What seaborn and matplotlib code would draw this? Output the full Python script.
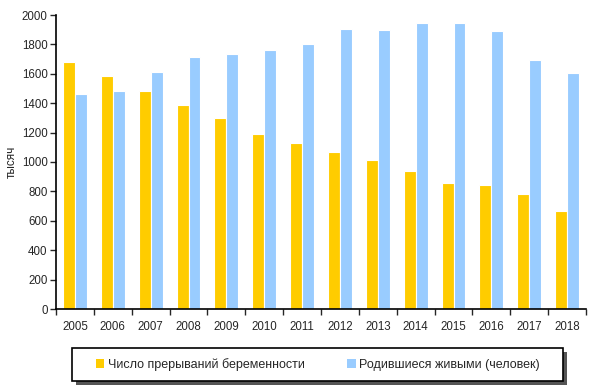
import pandas as pd
import numpy as np
import matplotlib.pyplot as plt
import matplotlib.patches as mpatches
import seaborn as sns

# данные (тысяч)
years = ['2005', '2006', '2007', '2008', '2009', '2010', '2011',
         '2012', '2013', '2014', '2015', '2016', '2017', '2018']
abortions = [1680, 1587, 1485, 1390, 1297, 1190, 1127,
             1068, 1016, 937, 855, 843, 784, 664]
births = [1460, 1483, 1614, 1716, 1735, 1762, 1800,
          1902, 1898, 1946, 1946, 1891, 1692, 1607]
series_names = ['Число прерываний беременности', 'Родившиеся живыми (человек)']
colors = ['#FFCC00', '#99CCFF']

df = pd.DataFrame({'year': years * 2,
                   'value': abortions + births,
                   'series': [series_names[0]] * len(years) + [series_names[1]] * len(years)})

sns.set_style('white')
plt.rcParams['font.family'] = ['Liberation Sans', 'DejaVu Sans']

W, H = 600, 385
fig = plt.figure(figsize=(6, 3.85), dpi=100)
ax = fig.add_axes([56/W, 1 - 309/H, 530/W, 294/H])

sns.barplot(data=df, x='year', y='value', hue='series', palette=colors,
            width=0.63, edgecolor='white', linewidth=0.8, saturation=1, ax=ax)

ax.set_xlim(-0.5, len(years) - 0.5)
ax.set_ylim(0, 2000)
ax.set_yticks(range(0, 2001, 200))
ax.tick_params(axis='y', labelsize=8.3, direction='out', length=4, width=1, left=True, pad=2)

# подписи годов по центрам, засечки между категориями
ax.set_xticks(np.arange(-0.5, len(years)), minor=False)
ax.set_xticklabels([])
ax.set_xticks(np.arange(len(years)), minor=True)
ax.set_xticklabels(years, minor=True)
ax.tick_params(axis='x', which='major', direction='out', length=4, width=1, bottom=True)
ax.tick_params(axis='x', which='minor', length=0, labelsize=8.3, pad=9)

for s in ['top', 'right']:
    ax.spines[s].set_visible(False)
for s in ['left', 'bottom']:
    ax.spines[s].set_color('black')
    ax.spines[s].set_linewidth(1.2)

ax.set_xlabel('')
ax.set_ylabel('тысяч', fontsize=8.5, labelpad=3)

# рамка легенды с тенью
x0, x1, y0, y1 = 72, 563, 348, 381
fig.patches.append(mpatches.Rectangle(((x0 + 4)/W, 1 - (y1 + 4)/H), (x1 - x0)/W, (y1 - y0)/H,
                                      transform=fig.transFigure, facecolor='#555555',
                                      edgecolor='none', zorder=0))
fig.patches.append(mpatches.Rectangle((x0/W, 1 - y1/H), (x1 - x0)/W, (y1 - y0)/H,
                                      transform=fig.transFigure, facecolor='white',
                                      edgecolor='black', linewidth=1.2, zorder=1))

handles, labels = ax.get_legend_handles_labels()
ax.get_legend().remove()
leg = fig.legend(handles, labels, loc='center', ncol=2,
                 bbox_to_anchor=((x0 + x1)/2/W, 1 - (y0 + y1)/2/H),
                 frameon=False, fontsize=9,
                 handlelength=0.7, handleheight=0.7, handletextpad=0.25,
                 borderaxespad=0, columnspacing=3.4)
leg.set_zorder(2)
for h in leg.legend_handles:
    h.set_edgecolor('none')

plt.savefig('out.png', dpi=100)
